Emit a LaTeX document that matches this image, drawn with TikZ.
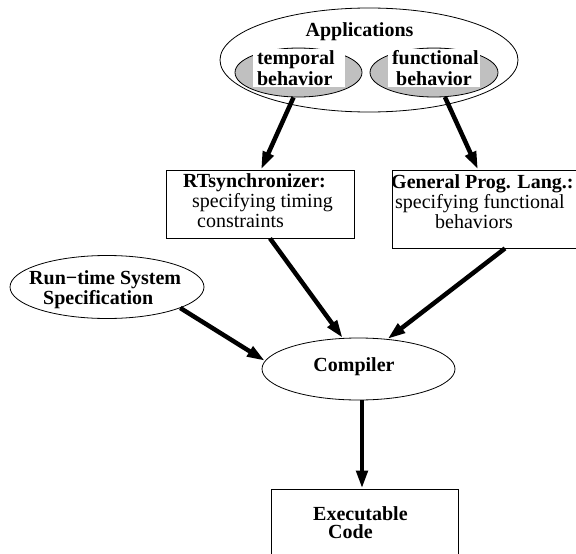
\documentclass[tikz,border=0pt]{standalone}
\usepackage{fontspec}
\setmainfont{Liberation Serif}
\usetikzlibrary{shapes.geometric,arrows.meta}
\definecolor{ovalgray}{RGB}{192,192,192}
\begin{document}
\begin{tikzpicture}[x=1pt,y=-1pt,
  oval/.style={draw,ellipse,inner sep=0pt,line width=0.8pt},
  box/.style={draw,rectangle,inner sep=0pt,line width=0.8pt},
  txt/.style={inner sep=0pt,align=left,font=\fontsize{20}{20}\selectfont},
  btxt/.style={inner sep=0pt,align=left,font=\fontsize{20}{20}\selectfont\bfseries},
  behav/.style={fill=white,inner xsep=4pt,inner ysep=1pt,text width=84pt,font=\fontsize{20}{21}\selectfont\bfseries},
  arr/.style={line width=4.5pt,-{Triangle[length=18pt,width=11pt]}}]
\useasboundingbox (0,0) rectangle (576,554);
\node[oval,minimum width=298pt,minimum height=104pt] (app) at (369,60) {};
\node[btxt,anchor=base] (applbl) at (359.5,36) {Applications};
\node[oval,fill=ovalgray,minimum width=127pt,minimum height=49pt] (temp) at (298.5,72.5) {};
\node[behav,align=left] (templbl) at (299,68) {temporal\\behavior};
\node[oval,fill=ovalgray,minimum width=128pt,minimum height=49pt] (func) at (434,72.5) {};
\node[behav,align=center] (funclbl) at (434,68) {functional\\behavior};
\node[box,minimum width=188pt,minimum height=68pt] (rtbox) at (260,204) {};
\node[txt,anchor=north west] (rttxt) at (183,173.5) {\textbf{RTsynchronizer:}\\\hspace*{9pt}specifying timing\\\hspace*{14pt}constraints};
\node[box,minimum width=198pt,minimum height=78pt] (genbox) at (491,209) {};
\node[txt,anchor=north west] (gentxt) at (391,174) {\textbf{General Prog. Lang.:}\\\hspace*{4pt}specifying functional\\\hspace*{44pt}behaviors};
\node[oval,minimum width=194pt,minimum height=63pt] (rts) at (107,287) {};
\node[btxt,anchor=north west] (rtstxt) at (29,270) {Run−time System\\\hspace*{14pt}Specification};
\node[oval,minimum width=193pt,minimum height=62pt] (comp) at (358.5,369) {};
\node[btxt,anchor=base] (complbl) at (354,371) {Compiler};
\node[box,minimum width=187pt,minimum height=81pt] (exec) at (364.5,529.5) {};
\node[btxt,anchor=north west,font=\fontsize{20}{18}\selectfont\bfseries] (exectxt) at (313,506) {Executable\\\hspace*{15pt}Code};
\draw[arr] ([xshift=-5pt]temp.south) -- ([xshift=1pt]rtbox.north);
\draw[arr] (func.-66) -- ([xshift=-13pt]genbox.north);
\draw[arr] ([xshift=10pt]rtbox.south) -- (comp.117);
\draw[arr] ([xshift=14pt]genbox.south) -- (comp.46);
\draw[arr] (rts.-16) -- (comp.175);
\draw[arr] ([xshift=3.5pt]comp.south) -- ([xshift=-2.5pt]exec.north);
\end{tikzpicture}
\end{document}
